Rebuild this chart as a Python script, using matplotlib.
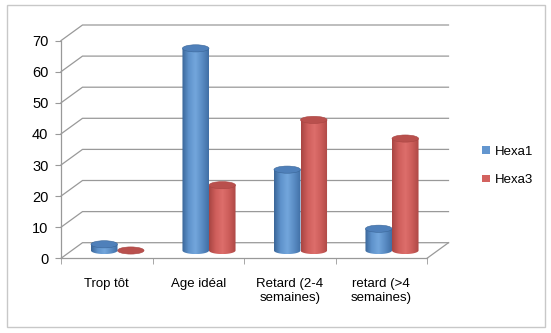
import matplotlib.pyplot as plt
import numpy as np
from matplotlib.path import Path
from matplotlib.patches import PathPatch, Ellipse, Patch
from matplotlib.colors import LinearSegmentedColormap

plt.rcParams['font.family'] = ['Liberation Sans', 'DejaVu Sans']

categories = ['Trop tôt', 'Age idéal', 'Retard (2-4\nsemaines)', 'retard (>4\nsemaines)']
hexa1 = [2, 65, 26, 7]
hexa3 = [0, 21, 42, 36]
series_names = ['Hexa1', 'Hexa3']
yticks = [0, 10, 20, 30, 40, 50, 60, 70]

W, H = 551, 333
fig = plt.figure(figsize=(W / 100, H / 100), dpi=100)

# front plane of the pseudo 3D box, in pixels
x0, x1 = 61, 427
yb, yt = 258.3, 40.6
ax = fig.add_axes([x0 / W, 1 - yb / H, (x1 - x0) / W, (yb - yt) / H])
ax.set_xlim(0, 4)
ax.set_ylim(0, 70)

# depth offset in data units
ddx = 21.5 / ((x1 - x0) / 4)
ddy = 15.6 / ((yb - yt) / 70)
grid_c = '#999999'

for v in yticks:
    ax.plot([0, ddx, 4 + ddx], [v, v + ddy, v + ddy], color=grid_c, lw=0.9,
            clip_on=False, zorder=1)
ax.plot([4, 4 + ddx], [0, ddy], color=grid_c, lw=0.9, clip_on=False, zorder=1)

for s in ['top', 'right']:
    ax.spines[s].set_visible(False)
for s in ['left', 'bottom']:
    ax.spines[s].set_color(grid_c)
    ax.spines[s].set_linewidth(0.9)

ax.set_yticks(yticks)
ax.tick_params(axis='y', length=4, color=grid_c, pad=5, labelsize=10.5)
ax.set_xticks(np.arange(4) + 0.5)
ax.set_xticklabels(categories)
ax.set_xticks(np.arange(5), minor=True)
ax.tick_params(axis='x', which='major', length=0, pad=14, labelsize=9.5)
ax.tick_params(axis='x', which='minor', length=4, color=grid_c)
for lab in ax.get_xticklabels():
    lab.set_linespacing(1.3)

bw = 0.29
eh = 2.3
styles = {
    'Hexa1': dict(cols=['#3a6698', '#5f93cc', '#73a6dc', '#5a8cc4', '#416fa5'],
                  top='#4f80ba', leg='#6396cf'),
    'Hexa3': dict(cols=['#a84542', '#cf5f5c', '#dd6e6b', '#cc5d5a', '#ad4946'],
                  top='#b9504d', leg='#d3625f'),
}


def cylinder(cx, v, st, z):
    y0 = ddy / 2
    y1 = y0 + v
    cmap = LinearSegmentedColormap.from_list('c', st['cols'])
    if v > 0:
        t = np.linspace(np.pi, 2 * np.pi, 30)
        verts = [(cx - bw / 2, y1), (cx + bw / 2, y1)]
        verts += [(cx + bw / 2 * np.cos(a), y0 + eh / 2 * np.sin(a)) for a in t[::-1]]
        verts.append((cx - bw / 2, y1))
        path = Path(verts)
        patch = PathPatch(path, facecolor='none', edgecolor='none', zorder=z)
        ax.add_patch(patch)
        grad = np.linspace(0, 1, 100).reshape(1, -1)
        im = ax.imshow(grad, cmap=cmap, aspect='auto', zorder=z,
                       extent=[cx - bw / 2, cx + bw / 2, y0 - eh / 2, y1],
                       clip_on=True)
        im.set_clip_path(patch)
    ax.add_patch(Ellipse((cx, y1), bw, eh, facecolor=st['top'],
                         edgecolor=st['cols'][0], lw=0.4, zorder=z + 0.1,
                         clip_on=False))


for i in range(4):
    c = i + 0.5 + ddx / 2
    cylinder(c + bw / 2, hexa3[i], styles['Hexa3'], 3)
    cylinder(c - bw / 2, hexa1[i], styles['Hexa1'], 4)

ax.set_xlim(0, 4)
ax.set_ylim(0, 70)

handles = [Patch(facecolor=styles[n]['leg'], edgecolor='none') for n in series_names]
fig.legend(handles, series_names, loc='center left', bbox_to_anchor=(482 / W, 1 - 166 / H),
           frameon=False, fontsize=9.5, handlelength=0.62, handleheight=0.5,
           handletextpad=0.35, labelspacing=1.25, borderpad=0, borderaxespad=0)

# outer frame
fig.patches.append(plt.Rectangle((6.5 / W, 1 - 327 / H), 538 / W, 322 / H,
                                 transform=fig.transFigure, fill=False,
                                 edgecolor='#c8c8c8', lw=1))

fig.savefig('out.png', dpi=100)
